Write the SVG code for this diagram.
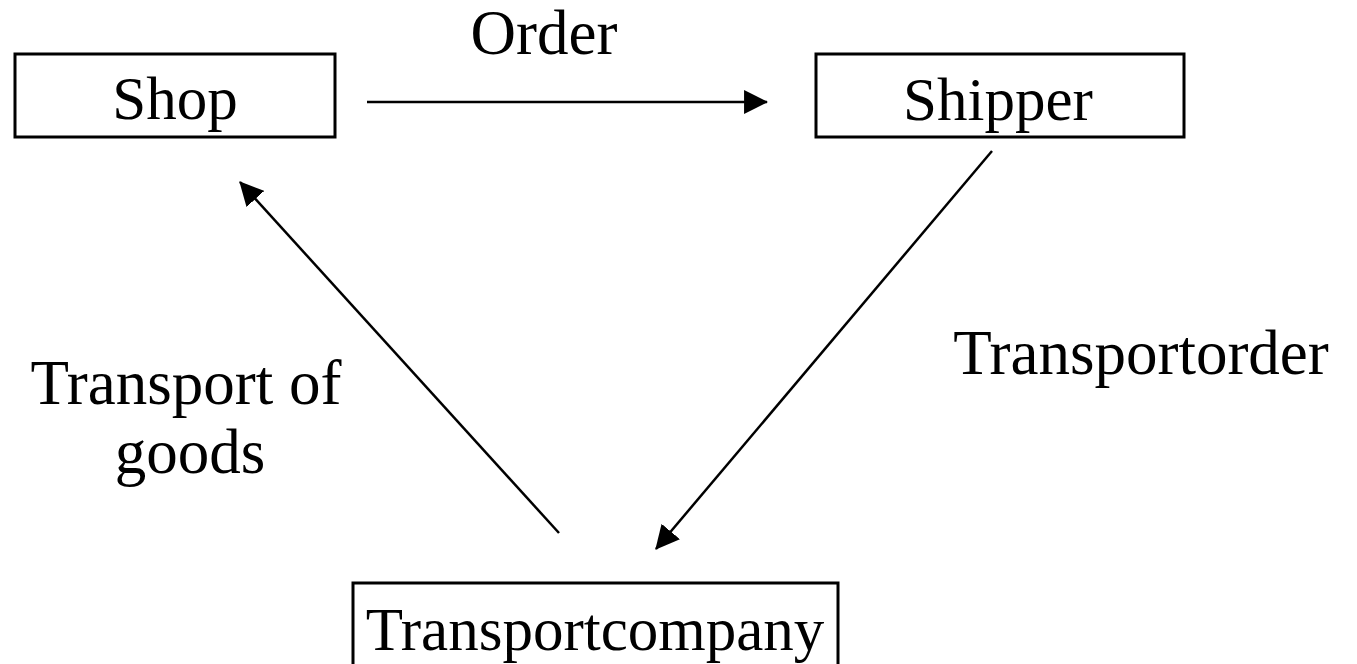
<svg xmlns="http://www.w3.org/2000/svg" width="1357" height="664" viewBox="0 0 1357 664">
  <style>
    .box { fill: #ffffff; stroke: #000000; stroke-width: 3; }
    .lbl { font-family: "Liberation Serif", "Times New Roman", serif; font-size: 61px; fill: #000000; }
    .elbl { font-family: "Liberation Serif", "Times New Roman", serif; font-size: 63px; fill: #000000; }
    .edge { stroke: #000000; stroke-width: 2.5; fill: none; marker-end: url(#head); }
  </style>
  <defs>
    <marker id="head" markerUnits="userSpaceOnUse" markerWidth="24" markerHeight="24" viewBox="0 0 22 22" refX="21" refY="11" orient="auto">
      <path d="M0,0 L22,11 L0,22 Z" fill="#000000"/>
    </marker>
  </defs>
  <rect width="1357" height="664" fill="#ffffff"/>

  <g id="connectors">
    <line class="edge" x1="367" y1="102" x2="767" y2="102"/>
    <line class="edge" x1="992" y1="151" x2="656" y2="549"/>
    <line class="edge" x1="559" y1="533" x2="240" y2="182"/>
  </g>

  <g id="shop">
    <rect class="box" x="15" y="54" width="320" height="83"/>
    <text class="lbl" x="175" y="119" text-anchor="middle">Shop</text>
  </g>
  <g id="shipper">
    <rect class="box" x="816" y="54" width="368" height="83"/>
    <text class="lbl" x="998" y="120" text-anchor="middle">Shipper</text>
  </g>
  <g id="transportcompany">
    <rect class="box" x="353" y="583" width="485" height="90"/>
    <text class="lbl" x="595" y="650" text-anchor="middle">Transportcompany</text>
  </g>

  <g id="edge-labels">
    <text class="elbl" x="544" y="54" text-anchor="middle">Order</text>
    <text class="elbl" x="1141" y="374" text-anchor="middle">Transportorder</text>
    <text class="elbl" x="186" y="404" text-anchor="middle">Transport of</text>
    <text class="elbl" x="190" y="473" text-anchor="middle">goods</text>
  </g>
</svg>
